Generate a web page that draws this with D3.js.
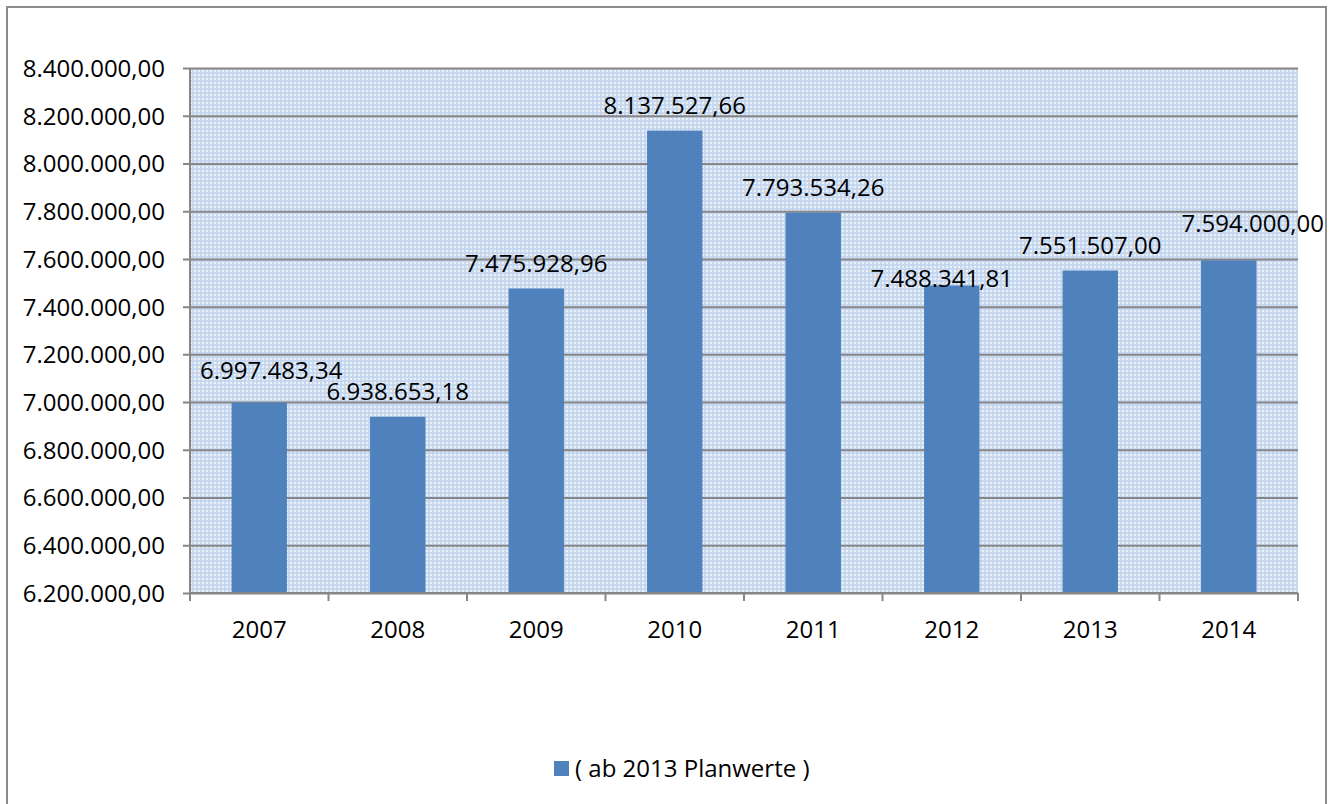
<!DOCTYPE html>
<html>
<head>
<meta charset="utf-8">
<script src="https://cdn.jsdelivr.net/npm/d3@7"></script>
<style>
  body { margin: 0; background: #fff; }
  text { font-family: "Open Sans", sans-serif; fill: #000; }
</style>
</head>
<body>
<script>
// values
var years = ["2007", "2008", "2009", "2010", "2011", "2012", "2013", "2014"];
var amounts = [6997483.34, 6938653.18, 7475928.96, 8137527.66, 7793534.26, 7488341.81, 7551507.00, 7594000.00];
var yTicks = [6200000, 6400000, 6600000, 6800000, 7000000, 7200000, 7400000, 7600000, 7800000, 8000000, 8200000, 8400000];
var legendLabel = "( ab 2013 Planwerte )";

var width = 1331, height = 804;
var plot = { left: 190, right: 1298, top: 68, bottom: 593 };
var barColor = "#4f81bd";
var gridColor = "#868686";
var fontSize = 24;

// german number format 8.400.000,00
var de = d3.formatLocale({ decimal: ",", thousands: ".", grouping: [3], currency: ["", "€"] });
var fmt = de.format(",.2f");

var svg = d3.select("body").append("svg").attr("width", width).attr("height", height);

// plaid background of the plot area
var defs = svg.append("defs");
var pat = defs.append("pattern").attr("id", "plaid").attr("patternUnits", "userSpaceOnUse")
  .attr("width", 4).attr("height", 4);
pat.append("rect").attr("width", 4).attr("height", 4).attr("fill", "#ebf1f9");
pat.append("rect").attr("width", 4).attr("height", 2).attr("fill", "#c3d5ee").attr("opacity", 0.85);
pat.append("rect").attr("width", 2).attr("height", 4).attr("fill", "#c3d5ee").attr("opacity", 0.85);

// outer frame
svg.append("rect").attr("x", 7).attr("y", 7).attr("width", 1319).attr("height", 810)
  .attr("fill", "none").attr("stroke", "#8c8c8c").attr("stroke-width", 2);

var x = d3.scaleBand().domain(years).range([plot.left, plot.right]).paddingInner(0).paddingOuter(0);
var y = d3.scaleLinear().domain([6200000, 8400000]).range([plot.bottom, plot.top]);

svg.append("rect").attr("x", plot.left).attr("y", plot.top)
  .attr("width", plot.right - plot.left).attr("height", plot.bottom - plot.top)
  .attr("fill", "url(#plaid)");

// horizontal gridlines and y labels
var yAxis = d3.axisLeft(y).tickValues(yTicks).tickSize(-(plot.right - plot.left + 7)).tickFormat(fmt);
var gy = svg.append("g").attr("transform", "translate(" + plot.left + ",0)").call(yAxis);
gy.select(".domain").remove();
gy.selectAll(".tick line").attr("x1", -7).attr("x2", plot.right - plot.left)
  .attr("stroke", gridColor).attr("stroke-width", 2);
gy.selectAll(".tick text").attr("font-size", fontSize).attr("x", -25).attr("dy", "0.35em");

// left axis line
svg.append("line").attr("x1", plot.left).attr("x2", plot.left).attr("y1", plot.top).attr("y2", plot.bottom)
  .attr("stroke", gridColor).attr("stroke-width", 2);

// bars
var barW = x.bandwidth() * 0.4;
svg.selectAll(".bar").data(amounts).enter().append("rect")
  .attr("class", "bar")
  .attr("x", function(d, i) { return x(years[i]) + (x.bandwidth() - barW) / 2; })
  .attr("y", function(d) { return y(d); })
  .attr("width", barW)
  .attr("height", function(d) { return y(6200000) - y(d); })
  .attr("fill", barColor);

// bottom axis with ticks at category boundaries
svg.append("line").attr("x1", plot.left).attr("x2", plot.right).attr("y1", plot.bottom).attr("y2", plot.bottom)
  .attr("stroke", gridColor).attr("stroke-width", 2);
var bounds = years.map(function(d) { return x(d); }).concat([plot.right]);
svg.selectAll(".xtick").data(bounds).enter().append("line")
  .attr("x1", function(d) { return d; }).attr("x2", function(d) { return d; })
  .attr("y1", plot.bottom).attr("y2", plot.bottom + 8)
  .attr("stroke", gridColor).attr("stroke-width", 2);
svg.selectAll(".xlab").data(years).enter().append("text")
  .attr("x", function(d) { return x(d) + x.bandwidth() / 2; })
  .attr("y", plot.bottom + 37)
  .attr("dy", "0.35em")
  .attr("text-anchor", "middle").attr("font-size", fontSize)
  .text(function(d) { return d; });

// data labels, a few nudged like the original to avoid overlaps
var nudge = [[12, -7], [0, 0], [0, 0], [0, 0], [0, 0], [-10, 18], [0, 0], [24, -12]];
svg.selectAll(".vlab").data(amounts).enter().append("text")
  .attr("x", function(d, i) { return x(years[i]) + x.bandwidth() / 2 + nudge[i][0]; })
  .attr("y", function(d, i) { return y(d) - 25 + nudge[i][1]; })
  .attr("dy", "0.35em")
  .attr("text-anchor", "middle").attr("font-size", fontSize)
  .text(function(d) { return fmt(d); });

// legend
var lg = svg.append("g").attr("transform", "translate(554,761)");
lg.append("rect").attr("width", 15).attr("height", 15).attr("fill", barColor);
lg.append("text").attr("x", 21).attr("y", 7.5).attr("dy", "0.35em").attr("font-size", fontSize).text(legendLabel);
</script>
</body>
</html>
